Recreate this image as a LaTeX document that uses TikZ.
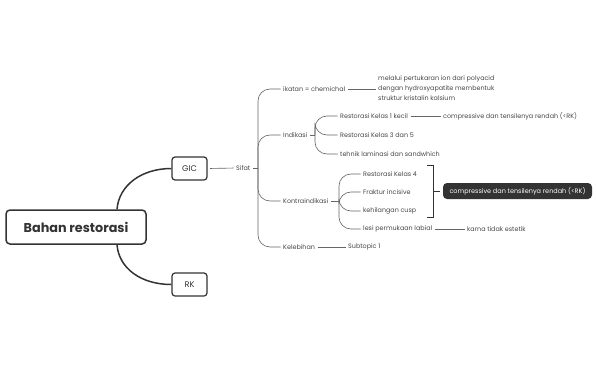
\documentclass[tikz,border=0pt]{standalone}
\usepackage{fontspec}
\setmainfont{Poppins}
\definecolor{dk}{HTML}{333333}
\definecolor{tx}{HTML}{454545}
\definecolor{ln}{HTML}{666666}
\begin{document}
\begin{tikzpicture}[x=1pt,y=-1pt,
  lbl/.style={anchor=west,inner sep=0pt,text=tx,font=\fontsize{6.4}{10}\selectfont},
  br/.style={draw=ln,line width=0.65pt,shorten <=2.5pt,shorten >=2.5pt},
  fork/.style={draw=ln,line width=0.65pt,rounded corners=12pt,shorten >=2.5pt},
  mainbr/.style={draw=dk,line width=1.5pt},
  topic/.style={draw=dk,line width=1.2pt,rounded corners=3pt,fill=white,minimum width=35pt,minimum height=23pt,inner sep=0pt,font=\fontsize{8.2}{10}\selectfont,text=dk},
  dark/.style={fill=dk,rounded corners=4pt,minimum width=149pt,minimum height=16pt,inner sep=0pt,text=white,font=\fontsize{6.5}{8}\selectfont}]
\useasboundingbox (0,0) rectangle (598,370);
% root and main topics
\node[draw=dk,line width=1.5pt,rounded corners=4pt,fill=white,minimum width=140pt,minimum height=34pt,inner sep=0pt,text=dk,font=\fontsize{12.8}{14}\selectfont\bfseries] (root) at (76,227) {Bahan restorasi};
\node[topic] (gic) at (189.5,168.5) {GIC};
\node[topic] (rk) at (189.5,284.5) {RK};
\draw[mainbr] ([xshift=41pt]root.north) .. controls +(2,-24) and +(-30,0) .. (gic.west);
\draw[mainbr] ([xshift=41pt]root.south) .. controls +(2,24) and +(-30,0) .. (rk.west);
% Sifat
\node[lbl] (sifat) at (236,168) {Sifat};
\draw[br] (gic.east) -- (sifat.west);
\coordinate (sS) at (258,168);
\draw[br,shorten >=0pt] (sifat.east) -- (sS);
\node[lbl] (ikatan) at (283,89) {ikatan = chemichal};
\node[lbl] (indik) at (283,135) {Indikasi};
\node[lbl] (kontra) at (283,201) {Kontraindikasi};
\node[lbl] (kelebih) at (283,247) {Kelebihan};
\foreach \t in {ikatan,indik,kontra,kelebih} \draw[fork] (sS) |- (\t.west);
% ikatan child
\node[lbl,align=left,anchor=north west] (melalui) at (378,75) {melalui pertukaran ion dari polyacid\\dengan hydroxyapatite membentuk\\struktur kristalin kalsium};
\draw[br] (ikatan.east) -- (ikatan.east -| melalui.west);
% Indikasi children
\coordinate (iS) at (315,135);
\draw[br,shorten >=0pt] (indik.east) -- (iS);
\node[lbl] (rk1) at (340,116) {Restorasi Kelas 1 kecil};
\node[lbl] (rk35) at (340,135) {Restorasi Kelas 3 dan 5};
\node[lbl] (tehnik) at (340,154) {tehnik laminasi dan sandwhich};
\foreach \t in {rk1,rk35,tehnik} \draw[fork] (iS) |- (\t.west);
\node[lbl] (comp1) at (443,116) {compressive dan tensilenya rendah (<RK)};
\draw[br] (rk1.east) -- (comp1.west);
% Kontraindikasi children
\coordinate (kS) at (339,201);
\draw[br,shorten >=0pt] (kontra.east) -- (kS);
\node[lbl] (rk4) at (363,174) {Restorasi Kelas 4};
\node[lbl] (fraktur) at (363,192) {Fraktur incisive};
\node[lbl] (cusp) at (363,211) {kehilangan cusp};
\node[lbl] (lesi) at (363,229) {lesi permukaan labial};
\foreach \t in {rk4,fraktur,cusp,lesi} \draw[fork] (kS) |- (\t.west);
\node[lbl] (karna) at (467,229) {karna tidak estetik};
\draw[br] (lesi.east) -- (karna.west);
% bracket summary
\node[dark] (comp2) at (517.5,191) {compressive dan tensilenya rendah (<RK)};
\coordinate (bt) at (433,165);
\coordinate (bb) at (433,217);
\draw[draw=dk,line width=1pt] ([xshift=-6pt]bt) -- (bt) -- (bb) -- ([xshift=-6pt]bb);
\draw[draw=dk,line width=1pt] (bt |- comp2) -- ([xshift=-3pt]comp2.west);
% Kelebihan child
\node[lbl] (sub1) at (348,247) {Subtopic 1};
\draw[br] (kelebih.east) -- (sub1.west);
\end{tikzpicture}
\end{document}
